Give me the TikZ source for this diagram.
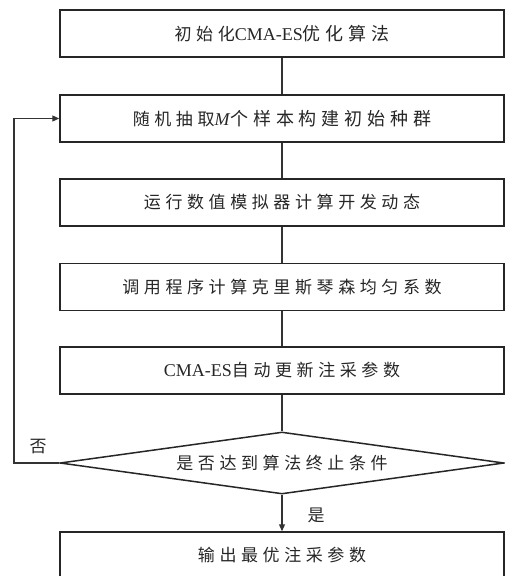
\documentclass[tikz,border=0pt]{standalone}
\usepackage{fontspec}
\setmainfont{Liberation Serif}
\newfontfamily\cjk{Noto Sans CJK SC}[LetterSpace=27]
\usetikzlibrary{shapes.geometric,arrows.meta}
\tikzset{
  stepbox/.style={draw=black!85, line width=1.5pt, rectangle, minimum width=444pt, minimum height=47pt, inner sep=0pt, text=black!85, font=\fontsize{17pt}{20pt}\selectfont},
  decide/.style={draw=black!85, line width=1.5pt, diamond, aspect=7.16, minimum width=444pt, minimum height=62pt, inner sep=0pt, text=black!85, font=\fontsize{17pt}{20pt}\selectfont},
  link/.style={draw=black!80, line width=1.2pt},
  arr/.style={link, -{Triangle[length=7pt,width=6pt]}},
  lbl/.style={text=black!85, font=\fontsize{17pt}{20pt}\selectfont\cjk, inner sep=0pt}
}
\begin{document}
\begin{tikzpicture}[x=1pt,y=-1pt]
\useasboundingbox (0,0) rectangle (505,576);
\clip (0,0) rectangle (505,576);
\node[stepbox] (b1) at (282,33.5) {{\cjk 初始化}\fontsize{18pt}{20pt}\selectfont CMA-ES{\cjk 优化算法}};
\node[stepbox] (b2) at (282,118.5) {{\cjk 随机抽取}\fontsize{18pt}{20pt}\selectfont\textit{M}{\cjk 个样本构建初始种群}};
\node[stepbox] (b3) at (282,202.5) {\cjk 运行数值模拟器计算开发动态};
\node[stepbox] (b4) at (282,287) {\cjk 调用程序计算克里斯琴森均匀系数};
\node[stepbox] (b5) at (282,370.5) {\fontsize{18pt}{20pt}\selectfont CMA-ES{\cjk\fontsize{17pt}{20pt}\selectfont 自动更新注采参数}};
\node[decide] (d) at (282,463) {\cjk 是否达到算法终止条件};
\node[stepbox] (b6) at (282,555.5) {\cjk 输出最优注采参数};
\coordinate (lp) at (14,463);
\coordinate (lq) at (14,118.5);
\draw[link] (b1) -- (b2);
\draw[link] (b2) -- (b3);
\draw[link] (b3) -- (b4);
\draw[link] (b4) -- (b5);
\draw[link] (b5) -- (d);
\draw[arr] (d.south) -- (b6.north);
\draw[arr] (d.west) -- (lp) -- (lq) -- (b2.west);
\node[lbl] (no) at (38,447) {否};
\node[lbl] (yes) at (316,515) {是};
\end{tikzpicture}
\end{document}
